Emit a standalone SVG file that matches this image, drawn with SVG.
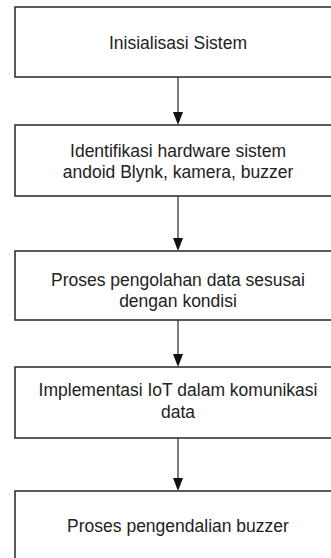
<svg xmlns="http://www.w3.org/2000/svg" width="331" height="558" viewBox="0 0 331 558">
<defs>
<style>
.box{fill:#fff;stroke:#333;stroke-width:1.6}
.t{font-family:"Liberation Sans",Arial,sans-serif;font-size:17.5px;fill:#222;text-anchor:middle}
.c{stroke:#555;stroke-width:1.5;fill:none}
</style>
<marker id="ah" markerWidth="10" markerHeight="12" refX="5" refY="12" orient="auto-start-reverse" markerUnits="userSpaceOnUse" viewBox="0 0 10 12">
<path d="M0,0 L10,0 L5,12 Z" fill="#111"/>
</marker>
</defs>
<rect width="331" height="558" fill="#fff"/>
<g id="connectors">
<line class="c" x1="178" y1="77" x2="178" y2="112"/>
<path d="M173,112 L183,112 L178,125 Z" fill="#111"/>
<line class="c" x1="178" y1="196" x2="178" y2="238"/>
<path d="M173,238 L183,238 L178,251 Z" fill="#111"/>
<line class="c" x1="178" y1="320" x2="178" y2="354"/>
<path d="M173,354 L183,354 L178,367 Z" fill="#111"/>
<line class="c" x1="178" y1="438" x2="178" y2="478"/>
<path d="M173,478 L183,478 L178,491 Z" fill="#111"/>
</g>
<g id="n1">
<rect class="box" x="15" y="7" width="326" height="70"/>
<text class="t" x="178" y="49">Inisialisasi Sistem</text>
</g>
<g id="n2">
<rect class="box" x="15" y="125" width="326" height="71"/>
<text class="t" x="178" y="157">Identifikasi hardware sistem</text>
<text class="t" x="178" y="178">andoid Blynk, kamera, buzzer</text>
</g>
<g id="n3">
<rect class="box" x="15" y="251" width="326" height="69"/>
<text class="t" x="178" y="286">Proses pengolahan data sesusai</text>
<text class="t" x="178" y="307">dengan kondisi</text>
</g>
<g id="n4">
<rect class="box" x="15" y="367" width="326" height="71"/>
<text class="t" x="178" y="396">Implementasi IoT dalam komunikasi</text>
<text class="t" x="178" y="418">data</text>
</g>
<g id="n5">
<rect class="box" x="15" y="491" width="326" height="75"/>
<text class="t" x="178" y="532">Proses pengendalian buzzer</text>
</g>
</svg>
